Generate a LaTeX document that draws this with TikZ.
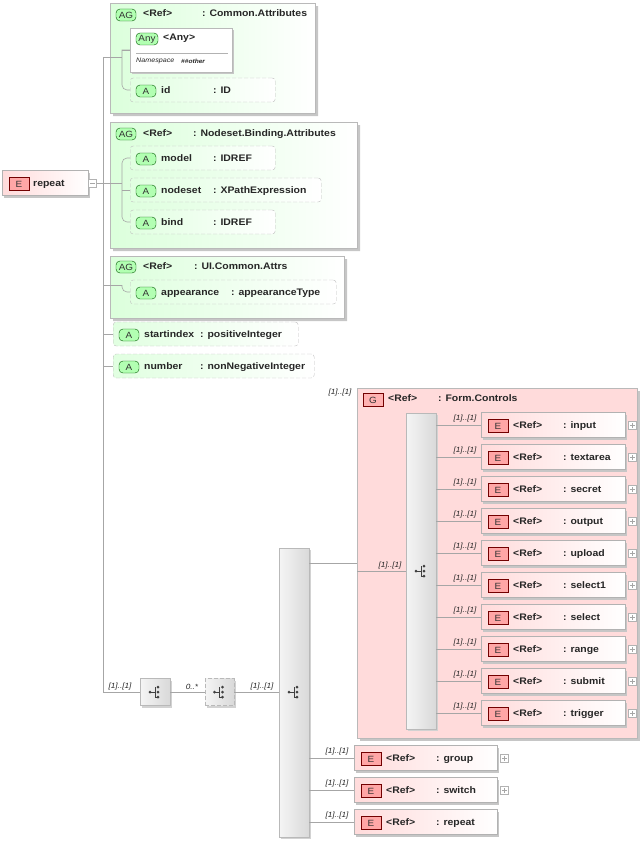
\documentclass[tikz,border=0pt]{standalone}
\usepackage{fontspec}
\setmainfont{Liberation Sans}[FakeStretch=1.1]
\usetikzlibrary{shapes.misc,shadows,positioning}

\tikzset{
  conn/.style={draw=gray!70, line width=0.6pt},
  txt/.style={inner sep=0pt, anchor=base west, font=\fontsize{9.5}{10}\selectfont\bfseries, text=black!85},
  card/.style={inner sep=0pt, font=\fontsize{7.5}{8}\selectfont\itshape, text=black!85},
  ebox/.style={draw=gray!60, left color=red!14, right color=white, minimum height=25pt, inner sep=0pt,
    drop shadow={shadow xshift=2pt, shadow yshift=-2pt, fill=gray!45, opacity=1}},
  abox/.style={draw=gray!50, dash pattern=on 4pt off 2pt, rounded corners=3pt, left color=green!12, right color=white, minimum height=24pt, inner sep=0pt},
  agbox/.style={chamfered rectangle, chamfered rectangle corners=north west, chamfered rectangle xsep=8pt,
    draw=gray!55, left color=green!14, right color=white, inner sep=0pt,
    drop shadow={shadow xshift=3pt, shadow yshift=-3pt, fill=gray!45, opacity=1}},
  ebadge/.style={draw=red!45!black, fill=red!35, minimum width=20pt, minimum height=13pt, inner sep=0pt,
    font=\fontsize{9}{9}\selectfont, text=black!80},
  abadge/.style={draw=green!35!black, fill=green!30, rounded corners=4pt, minimum width=20pt, minimum height=12pt, inner sep=0pt,
    font=\fontsize{9}{9}\selectfont, text=black!80},
  plusbox/.style={draw=gray!60, fill=white, minimum size=8pt, inner sep=0pt},
  chbox/.style={draw=gray!55, left color=gray!8, right color=gray!30, inner sep=0pt,
    drop shadow={shadow xshift=2pt, shadow yshift=-2pt, fill=gray!35, opacity=1}},
}

% element reference: name, x1, x2, y, label
\newcommand\refelem[5]{%
  \node[ebox, minimum width={(#3-#2)*1pt}, anchor=west] (#1) at (#2,#4) {};
  \node[ebadge] at (#2+17,#4+1) {E};
  \node[txt] at (#2+32,#4+3.5) {<Ref>};
  \node[txt] at (#2+82,#4+3.5) {: #5};
}
% attribute: name, x1, x2, y, label, type, colon offset
\newcommand\attrib[7]{%
  \node[abox, minimum width={(#3-#2)*1pt}, anchor=west] (#1) at (#2,#4) {};
  \node[abadge] at (#2+16,#4+1) {A};
  \node[txt] at (#2+31,#4+3.5) {#5};
  \node[txt] at (#2+#7,#4+3.5) {: #6};
}
% plus marker right of a node
\newcommand\plusat[1]{%
  \node[plusbox, right=3pt of #1.east] (#1p) {};
  \draw[gray!70] ([xshift=-2.5pt]#1p.center) -- ([xshift=2.5pt]#1p.center)
    ([yshift=-2.5pt]#1p.center) -- ([yshift=2.5pt]#1p.center);
}
% choice icon
\newcommand\chicon[1]{%
  \begin{scope}[shift={(#1)}]
    \fill[black!75] (-5,0) circle (1.5pt) (3,-5) circle (1.5pt) (3,0) circle (1.5pt) (3,5) circle (1.5pt);
    \draw[black!75, line width=0.7pt] (-5,0) -- (0,0) (0,-5) -- (0,5) -- (3,5);
  \end{scope}
}

\begin{document}
\begin{tikzpicture}[x=1pt, y=-1pt]
\useasboundingbox (0,0) rectangle (644,843);

% root
\node[ebox, minimum width=86pt, anchor=west] (rep) at (2,183) {};
\node[ebadge] at (19,184) {E};
\node[txt] at (33,186) {repeat};
\node[draw=gray!60, fill=white, minimum size=8pt, inner sep=0pt, right=0pt of rep.east] (repm) {};
\draw[gray!70] ([xshift=-2.5pt]repm.center) -- ([xshift=2.5pt]repm.center);
\coordinate (trunk) at (103,183);
\coordinate (trunkend) at (103,692);
\draw[conn] (repm.east) -- (trunk);

% attribute group: Common.Attributes
\node[agbox, minimum width=205pt, minimum height=110pt, anchor=north west] (ag1) at (110,3) {};
\node[abadge] at (126,15) {AG};
\node[txt] at (143,17) {<Ref>};
\node[txt] at (202,17) {: Common.Attributes};
\node[draw=gray!55, fill=white, minimum width=102pt, minimum height=44pt, inner sep=0pt, anchor=north west,
  drop shadow={shadow xshift=2pt, shadow yshift=-2pt, fill=gray!45, opacity=1}] (any) at (130,28) {};
\node[abadge, minimum width=22pt] at (147,39) {Any};
\node[txt] at (163,41) {<Any>};
\draw[gray!60] (136,53) -- (228,53);
\node[card, anchor=west, font=\fontsize{6.5}{7}\selectfont\itshape] at (136,61) {Namespace};
\node[card, anchor=west, font=\fontsize{6}{7}\selectfont\bfseries\itshape] at (181,61) {\#\#other};
\attrib{id}{130}{275}{90}{id}{ID}{83}
\draw[conn] (trunk |- 0,57) -- (122,57);
\draw[conn] (any.west |- 0,50) -| (122,84) [rounded corners=5pt] -- (122,90) -- (id.west);
\draw[conn] (122,50) -- (any.west |- 0,50);

% attribute group: Nodeset.Binding.Attributes
\node[agbox, minimum width=247pt, minimum height=126pt, anchor=north west] (ag2) at (110,122) {};
\node[abadge] at (126,134) {AG};
\node[txt] at (143,136.5) {<Ref>};
\node[txt] at (193,136.5) {: Nodeset.Binding.Attributes};
\attrib{model}{130}{275}{158}{model}{IDREF}{83}
\attrib{nodeset}{130}{321}{190}{nodeset}{XPathExpression}{83}
\attrib{bind}{130}{275}{222}{bind}{IDREF}{83}
\draw[conn] (trunk) -- (122,183);
\draw[conn, rounded corners=5pt] (model.west) -| (122,222) -- (bind.west);
\draw[conn] (122,190) -- (nodeset.west);

% attribute group: UI.Common.Attrs
\node[agbox, minimum width=234pt, minimum height=62pt, anchor=north west] (ag3) at (110,256) {};
\node[abadge] at (126,267) {AG};
\node[txt] at (143,269) {<Ref>};
\node[txt] at (194,269) {: UI.Common.Attrs};
\attrib{appear}{130}{336}{292}{appearance}{appearanceType}{101}
\draw[conn] (trunk |- 0,285) -- (122,285);
\draw[conn, rounded corners=5pt] (122,285) -- (122,292) -- (appear.west);

% plain attributes
\attrib{start}{113}{298}{334}{startindex}{positiveInteger}{87}
\attrib{number}{113}{314}{366}{number}{nonNegativeInteger}{87}
\draw[conn] (trunk |- start.west) -- (start.west);
\draw[conn] (trunk |- number.west) -- (number.west);
\draw[conn] (103,57) -- (trunkend);

% sequence chain
\node[chbox, minimum width=30pt, minimum height=27pt] (seq1) at (155,692) {};
\chicon{155,692}
\node[chbox, dash pattern=on 4pt off 2pt, minimum width=29pt, minimum height=27pt] (seq2) at (219.5,692) {};
\chicon{219.5,692}
\node[chbox, minimum width=30pt, minimum height=289pt, anchor=north west] (seq3) at (279,548) {};
\chicon{294,692}
\draw[conn] (trunkend) -- (seq1.west);
\draw[conn] (seq1.east) -- (seq2.west);
\draw[conn] (seq2.east) -- (seq3.west |- seq2.east);
\node[card, anchor=south] at (120,690) {[1]..[1]};
\node[card, anchor=south] at (192,690) {0..*};
\node[card, anchor=south] at (262,690) {[1]..[1]};

% group Form.Controls
\node[draw=gray!55, fill=red!14, minimum width=280pt, minimum height=350pt, inner sep=0pt, anchor=north west,
  drop shadow={shadow xshift=3pt, shadow yshift=-3pt, fill=gray!45, opacity=1}] (forms) at (357,388) {};
\node[ebadge, fill=red!30] at (373,400) {G};
\node[txt] at (388,401.5) {<Ref>};
\node[txt] at (438,401.5) {: Form.Controls};
\node[card, anchor=south] at (340,396) {[1]..[1]};
\draw[conn] (seq3.east |- 0,563) -- (forms.west |- 0,563);
\node[chbox, minimum width=30pt, minimum height=316pt, anchor=north west] (fchoice) at (406,413) {};
\chicon{421,571}
\draw[conn] (forms.west |- 0,571) -- (fchoice.west |- 0,571);
\node[card, anchor=south] at (390,569) {[1]..[1]};

\foreach \nm/\k in {input/0, textarea/1, secret/2, output/3, upload/4, select1/5, select/6, range/7, submit/8, trigger/9} {
  \refelem{\nm}{481}{625}{425+32*\k}{\nm}
  \plusat{\nm}
  \draw[conn] (fchoice.east |- \nm.west) -- (\nm.west);
  \node[card, anchor=south] at (465,422+32*\k) {[1]..[1]};
}

% trailing references
\foreach \nm/\yy in {group/758, switch/790, repeat/822} {
  \refelem{r\nm}{354}{497}{\yy}{\nm}
  \draw[conn] (seq3.east |- r\nm.west) -- (r\nm.west);
  \node[card, anchor=south] at (337,\yy-3) {[1]..[1]};
}
\plusat{rgroup}
\plusat{rswitch}
\end{tikzpicture}
\end{document}
